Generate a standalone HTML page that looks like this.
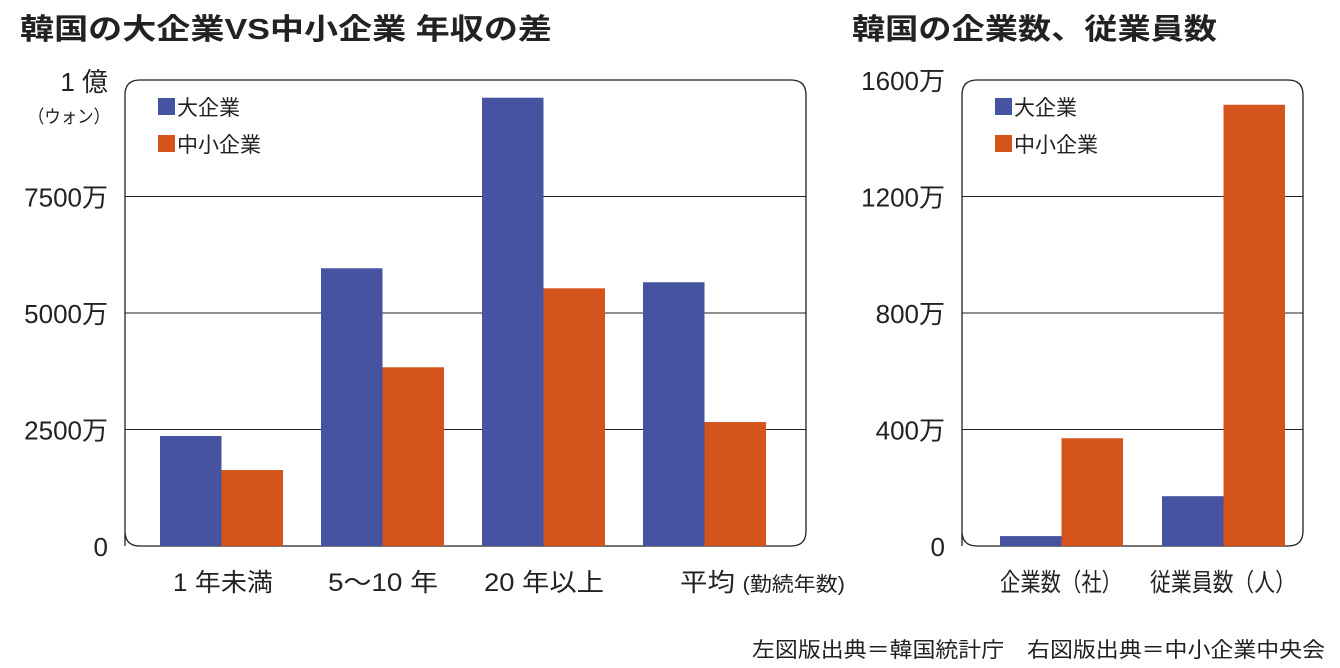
<!DOCTYPE html>
<html><head><meta charset="utf-8"><style>
body{margin:0;background:#fff;}
svg{display:block;font-family:"Liberation Sans","Noto Sans CJK JP",sans-serif;}
</style></head><body>
<svg id="s" width="1340" height="668" viewBox="0 0 1340 668">
<text x="20" y="39" font-size="29" font-weight="bold" fill="#222" textLength="532" lengthAdjust="spacingAndGlyphs">韓国の大企業VS中小企業 年収の差</text>
<text x="852" y="39" font-size="29" font-weight="bold" fill="#222" textLength="365" lengthAdjust="spacingAndGlyphs">韓国の企業数、従業員数</text>
<text x="752" y="657" font-size="21" fill="#222" textLength="573" lengthAdjust="spacingAndGlyphs">左図版出典＝韓国統計庁　右図版出典＝中小企業中央会</text>
<text x="108" y="91" font-size="26" text-anchor="end" fill="#222">1 億</text>
<text x="28" y="123" font-size="18" fill="#222" textLength="82" lengthAdjust="spacingAndGlyphs">（ウォン）</text>
<g id="L"></g><g id="R"></g>
</svg>
<script>
const leftCats=["1 年未満","5〜10 年","20 年以上","平均"];
const leftLarge=[2360,5960,9620,5660];
const leftSmall=[1630,3835,5530,2660];
const leftTicks=[0,2500,5000,7500];
const leftTickLabels=["0","2500万","5000万","7500万"];
const rightCats=["企業数（社）","従業員数（人）"];
const rightLarge=[34,171];
const rightSmall=[370,1515];
const rightTicks=[0,400,800,1200,1600];
const rightTickLabels=["0","400万","800万","1200万","1600万"];
const NS="http://www.w3.org/2000/svg";
const BLUE="#4553a0",ORANGE="#d4541b";
function mk(p,t,a,txt){const e=document.createElementNS(NS,t);for(const k in a)e.setAttribute(k,a[k]);if(txt!==undefined)e.textContent=txt;p.appendChild(e);return e;}
function chart(g,x0,x1,yTop,yBot,max,cats,lg,sm,ticks,tlabels,groupW,barW,off,catWidths){
  const y=v=>yBot-(v/max)*(yBot-yTop);
  const r=15;
  const box=mk(g,'path',{d:`M${x0} ${yBot}V${yTop+r}Q${x0} ${yTop} ${x0+r} ${yTop}H${x1-r}Q${x1} ${yTop} ${x1} ${yTop+r}V${yBot-r}Q${x1} ${yBot} ${x1-r} ${yBot}H${x0+r}Q${x0} ${yBot} ${x0} ${yBot-r}`,fill:'none',stroke:'#222','stroke-width':1.3});
  
  
  ticks.forEach((t,i)=>{
    if(t>0&&t<max){const l=mk(g,'line',{x1:x0,x2:x1,y1:y(t),y2:y(t),stroke:'#222','stroke-width':1});
      
      }
    const tx=mk(g,'text',{x:x0-17,y:y(t)+10,'font-size':26,'text-anchor':'end',fill:'#222'},tlabels[i]);
    
    
  });
  cats.forEach((c,i)=>{
    const bx=x0+off+i*groupW;
    const b1=mk(g,'rect',{x:bx,y:y(lg[i]),width:barW,height:yBot-y(lg[i]),fill:BLUE});
    
    
    const b2=mk(g,'rect',{x:bx+barW,y:y(sm[i]),width:barW,height:yBot-y(sm[i]),fill:ORANGE});
    
    
    const cw=catWidths[i];
    const t=mk(g,'text',{x:cw[0],y:yBot+45,'font-size':25,fill:'#222',textLength:cw[1],lengthAdjust:'spacingAndGlyphs'},c);
    
    
    if(c==="平均"){t.textContent="";
      mk(t,'tspan',{},"平均 ");mk(t,'tspan',{'font-size':20},"(勤続年数)");}
  });
  [["大企業",BLUE,108],["中小企業",ORANGE,145]].forEach(([n,c,yy])=>{
    const r=mk(g,'rect',{x:x0+33,y:yy-10,width:17,height:17,fill:c});
    
    
    const t=mk(g,'text',{x:x0+52,y:yy+7,'font-size':21,fill:'#222'},n);
    
    
  });
}
chart(document.getElementById('L'),125,806,80,546,10000,leftCats,leftLarge,leftSmall,leftTicks,leftTickLabels,161,61.5,35,[[173,100],[328,110],[484,120],[680,165]]);
chart(document.getElementById('R'),962,1303,80,546,1600,rightCats,rightLarge,rightSmall,rightTicks,rightTickLabels,162,61.5,38,[[1000,122],[1150,146]]);
</script>
</body></html>
